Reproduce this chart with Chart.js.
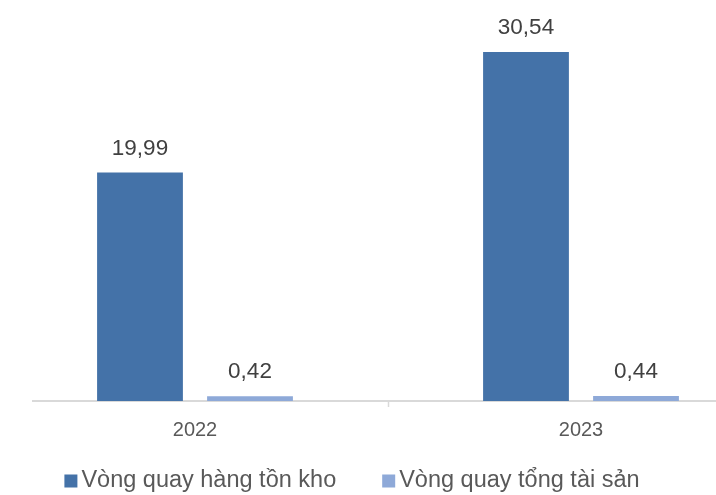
<!DOCTYPE html>
<html>
<head>
<meta charset="utf-8">
<script src="https://cdn.jsdelivr.net/npm/chart.js@4/dist/chart.umd.min.js"></script>
<style>
  html, body { margin: 0; padding: 0; background: #ffffff; }
  #wrap { position: relative; width: 716px; height: 495px; }
</style>
</head>
<body>
<div id="wrap"><canvas id="chart"></canvas></div>
<script>
// Years on the horizontal axis
const categories = ['2022', '2023'];
// Inventory turnover and total asset turnover
const inventoryTurnover = [19.99, 30.54];
const assetTurnover = [0.42, 0.44];
const seriesNames = ['Vòng quay hàng tồn kho', 'Vòng quay tổng tài sản'];
const seriesColors = ['#4472A8', '#8EA9D8'];

const FONT = '"Liberation Sans", Arial, Helvetica, sans-serif';

const toPoints = (values) => values.map((v, i) => ({ x: i, y: v }));

// Value labels above each bar, written with a decimal comma
const valueLabels = {
  id: 'valueLabels',
  afterDatasetsDraw(chart) {
    const ctx = chart.ctx;
    ctx.save();
    ctx.font = '22.5px ' + FONT;
    ctx.fillStyle = '#404040';
    ctx.textAlign = 'center';
    ctx.textBaseline = 'middle';
    chart.data.datasets.forEach((ds, di) => {
      chart.getDatasetMeta(di).data.forEach((bar, i) => {
        const txt = ds.data[i].y.toFixed(2).replace('.', ',');
        ctx.fillText(txt, bar.x, bar.y - 24);
      });
    });
    ctx.restore();
  }
};

// Small tick mark on the baseline between the two years
const midTick = {
  id: 'midTick',
  afterDraw(chart) {
    const xs = chart.scales.x;
    const x = Math.round(xs.getPixelForValue(0.5)) + 0.5;
    const y0 = chart.chartArea.bottom;
    const ctx = chart.ctx;
    ctx.save();
    ctx.strokeStyle = '#d9d9d9';
    ctx.lineWidth = 1.5;
    ctx.beginPath();
    ctx.moveTo(x, y0);
    ctx.lineTo(x, y0 + 6);
    ctx.stroke();
    ctx.restore();
  }
};

// Legend row under the axis: square swatch followed by the series name
const bottomLegend = {
  id: 'bottomLegend',
  afterDraw(chart) {
    const ctx = chart.ctx;
    const sq = 13, gap = 4, itemGap = 46;
    ctx.save();
    ctx.font = '23.5px ' + FONT;
    const widths = seriesNames.map(n => ctx.measureText(n).width);
    const total = widths.reduce((a, w) => a + sq + gap + w, 0) + itemGap * (seriesNames.length - 1);
    let x = chart.width / 2 - 6 - total / 2;
    const cy = 481;
    ctx.textBaseline = 'middle';
    ctx.textAlign = 'left';
    seriesNames.forEach((name, i) => {
      ctx.fillStyle = seriesColors[i];
      ctx.fillRect(x, cy - sq / 2, sq, sq);
      ctx.fillStyle = '#595959';
      ctx.fillText(name, x + sq + gap, cy);
      x += sq + gap + widths[i] + itemGap;
    });
    ctx.restore();
  }
};

new Chart(document.getElementById('chart'), {
  type: 'bar',
  data: {
    datasets: [
      {
        label: seriesNames[0],
        data: toPoints(inventoryTurnover),
        backgroundColor: seriesColors[0],
        categoryPercentage: 0.57,
        barPercentage: 0.78
      },
      {
        label: seriesNames[1],
        data: toPoints(assetTurnover),
        backgroundColor: seriesColors[1],
        categoryPercentage: 0.57,
        barPercentage: 0.78
      }
    ]
  },
  options: {
    responsive: true,
    maintainAspectRatio: false,
    animation: false,
    layout: { padding: { left: 33, right: 0, top: 1, bottom: 53 } },
    plugins: {
      legend: { display: false },
      tooltip: { enabled: false }
    },
    scales: {
      x: {
        type: 'linear',
        offset: false,
        min: -0.41969,
        max: 1.34974,
        grid: { display: false, drawTicks: false, offset: false },
        border: { display: true, color: '#d9d9d9', width: 2 },
        afterBuildTicks(scale) {
          scale.ticks = categories.map((c, i) => ({ value: i }));
        },
        afterFit(scale) { scale.height = 41; },
        ticks: {
          autoSkip: false,
          maxRotation: 0,
          padding: 17,
          color: '#595959',
          font: { family: FONT, size: 20 },
          callback: (v) => categories[v] ?? ''
        }
      },
      y: {
        display: false,
        min: 0,
        max: 35
      }
    }
  },
  plugins: [valueLabels, midTick, bottomLegend]
});
</script>
</body>
</html>
